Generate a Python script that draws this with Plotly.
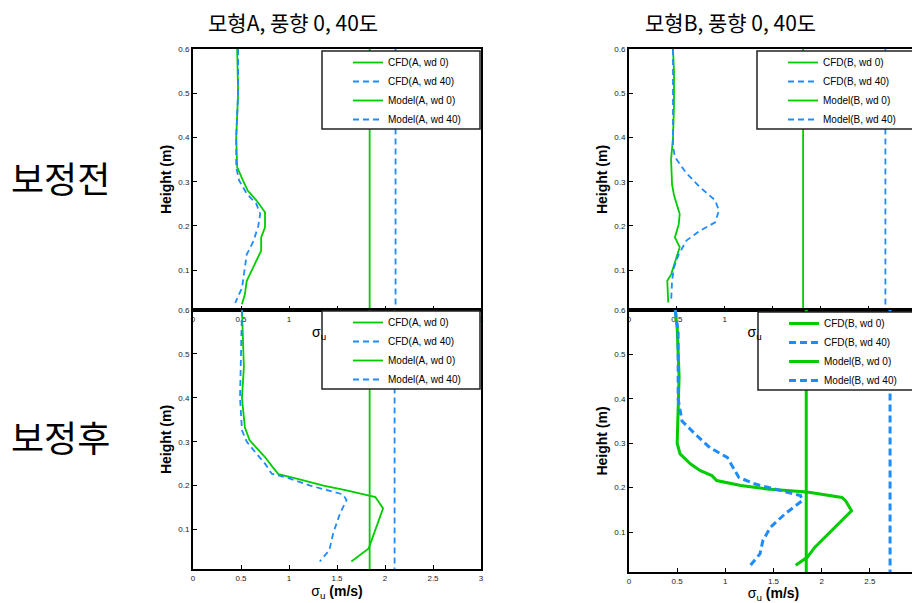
import plotly.graph_objects as go

# page is rendered inside a body with an 8px margin; geometry below is in page pixels
OX, OY = 8, 8
W, H = 920 - OX, 603 - OY
FONT = "Arial, Liberation Sans, sans-serif"
KFONT = "Noto Sans CJK KR, sans-serif"
GREEN = "rgb(0,204,0)"
BLUE = "rgb(30,140,255)"

# ---------------- data ----------------
panel_titles = ["모형A, 풍향 0, 40도", "모형B, 풍향 0, 40도"]
row_labels = ["보정전", "보정후"]
legend_names_A = ["CFD(A, wd 0)", "CFD(A, wd 40)", "Model(A, wd 0)", "Model(A, wd 40)"]
legend_names_B = ["CFD(B, wd 0)", "CFD(B, wd 40)", "Model(B, wd 0)", "Model(B, wd 40)"]
x_tickvals = [0, 0.5, 1, 1.5, 2, 2.5, 3]
x_ticktext = ["0", "0.5", "1", "1.5", "2", "2.5", "3"]
y_tickvals = [0.1, 0.2, 0.3, 0.4, 0.5, 0.6]
y_ticktext = ["0.1", "0.2", "0.3", "0.4", "0.5", "0.6"]

# 모형A 보정전
h_A_pre_wd0 = [0.6, 0.5, 0.4, 0.333, 0.303, 0.28, 0.258, 0.231, 0.197, 0.174, 0.144, 0.106, 0.076, 0.045, 0.023]
s_A_pre_wd0 = [0.46, 0.47, 0.45, 0.46, 0.52, 0.57, 0.66, 0.75, 0.75, 0.71, 0.71, 0.63, 0.56, 0.54, 0.51]
h_A_pre_wd40 = [0.6, 0.5, 0.4, 0.333, 0.303, 0.273, 0.25, 0.227, 0.2, 0.166, 0.148, 0.136, 0.09, 0.06, 0.026]
s_A_pre_wd40 = [0.47, 0.47, 0.45, 0.45, 0.48, 0.56, 0.66, 0.70, 0.68, 0.63, 0.59, 0.56, 0.53, 0.51, 0.44]
# 모형B 보정전
h_B_pre_wd0 = [0.6, 0.55, 0.47, 0.4, 0.35, 0.294, 0.27, 0.25, 0.227, 0.204, 0.174, 0.152, 0.12, 0.09, 0.076, 0.027]
s_B_pre_wd0 = [0.46, 0.47, 0.47, 0.46, 0.44, 0.45, 0.47, 0.50, 0.53, 0.52, 0.48, 0.53, 0.48, 0.44, 0.40, 0.41]
h_B_pre_wd40 = [0.6, 0.5, 0.38, 0.356, 0.322, 0.288, 0.258, 0.235, 0.208, 0.189, 0.167, 0.136, 0.106, 0.076, 0.027]
s_B_pre_wd40 = [0.46, 0.46, 0.46, 0.48, 0.59, 0.74, 0.90, 0.94, 0.90, 0.74, 0.60, 0.52, 0.47, 0.45, 0.44]
# 모형A 보정후
h_A_post_wd0 = [0.6, 0.545, 0.47, 0.4, 0.333, 0.303, 0.265, 0.242, 0.226, 0.216, 0.2, 0.189, 0.178, 0.174, 0.148, 0.106, 0.057, 0.027]
s_A_post_wd0 = [0.51, 0.52, 0.53, 0.51, 0.54, 0.59, 0.75, 0.83, 0.89, 1.08, 1.36, 1.6, 1.83, 1.9, 1.98, 1.91, 1.83, 1.65]
h_A_post_wd40 = [0.6, 0.47, 0.4, 0.326, 0.3, 0.273, 0.25, 0.227, 0.216, 0.2, 0.189, 0.18, 0.167, 0.136, 0.091, 0.053, 0.027]
s_A_post_wd40 = [0.51, 0.50, 0.49, 0.51, 0.56, 0.66, 0.75, 0.82, 1.01, 1.22, 1.42, 1.56, 1.60, 1.53, 1.46, 1.42, 1.32]
# 모형B 보정후
h_B_post_wd0 = [0.6, 0.56, 0.45, 0.38, 0.336, 0.3, 0.276, 0.253, 0.238, 0.227, 0.216, 0.205, 0.197, 0.19, 0.178, 0.17, 0.148, 0.096, 0.066, 0.043, 0.025]
s_B_post_wd0 = [0.48, 0.50, 0.52, 0.51, 0.50, 0.50, 0.53, 0.64, 0.74, 0.86, 0.91, 1.16, 1.43, 1.85, 2.21, 2.25, 2.31, 2.07, 1.93, 1.85, 1.73]
h_B_post_wd40 = [0.6, 0.55, 0.4, 0.35, 0.32, 0.29, 0.268, 0.242, 0.223, 0.208, 0.193, 0.182, 0.171, 0.141, 0.111, 0.081, 0.051, 0.025]
s_B_post_wd40 = [0.48, 0.51, 0.51, 0.55, 0.69, 0.84, 1.02, 1.09, 1.14, 1.31, 1.59, 1.78, 1.80, 1.62, 1.47, 1.39, 1.36, 1.26]

# Model (constant) values and their height span
model_height = [0.0, 0.6]
model_A_pre = [1.84, 2.11]   # wd0, wd40
model_B_pre = [1.82, 2.68]
model_A_post = [1.84, 2.10]
model_B_post = [1.84, 2.71]


# ---------------- layout geometry (page pixels) ----------------
def px_x(p):
    return (p - OX) / W


def px_y(p):
    return 1 - (p - OY) / H


panels = [
    dict(x="x", y="y", leg="legend", names=legend_names_A,
         cfd=[(s_A_pre_wd0, h_A_pre_wd0), (s_A_pre_wd40, h_A_pre_wd40)], model=model_A_pre,
         xd=(193, 481), yd=(49, 310), box=(322, 51, 480, 129), lw=1.8, dash="6px,4px", top=True),
    dict(x="x2", y="y2", leg="legend2", names=legend_names_B,
         cfd=[(s_B_pre_wd0, h_B_pre_wd0), (s_B_pre_wd40, h_B_pre_wd40)], model=model_B_pre,
         xd=(629, 916), yd=(49, 310), box=(757, 51, 915, 129), lw=1.8, dash="6px,4px", top=True),
    dict(x="x3", y="y3", leg="legend3", names=legend_names_A,
         cfd=[(s_A_post_wd0, h_A_post_wd0), (s_A_post_wd40, h_A_post_wd40)], model=model_A_post,
         xd=(193, 481), yd=(310, 569), box=(322, 311, 480, 389), lw=1.8, dash="6px,4px", top=False),
    dict(x="x4", y="y4", leg="legend4", names=legend_names_B,
         cfd=[(s_B_post_wd0, h_B_post_wd0), (s_B_post_wd40, h_B_post_wd40)], model=model_B_post,
         xd=(629, 918), yd=(310, 572), box=(758, 312, 918, 390), lw=3, dash="7px,4px", top=False),
]

fig = go.Figure()
layout = dict(
    width=W, height=H, margin=dict(l=0, r=0, t=0, b=0, autoexpand=False),
    paper_bgcolor="white", plot_bgcolor="rgba(0,0,0,0)",
    font=dict(family=FONT, color="black"),
    showlegend=True, shapes=[], annotations=[],
)

for i, p in enumerate(panels):
    colors = [GREEN, BLUE]
    dashes = ["solid", p["dash"]]
    for k in range(2):
        sx, hy = p["cfd"][k]
        fig.add_trace(go.Scatter(
            x=sx, y=hy, mode="lines", name=p["names"][k],
            line=dict(color=colors[k], width=p["lw"], dash=dashes[k]),
            xaxis=p["x"], yaxis=p["y"], legend=p["leg"]))
    for k in range(2):
        v = p["model"][k]
        fig.add_trace(go.Scatter(
            x=[v] * len(model_height), y=model_height, mode="lines", name=p["names"][k + 2],
            line=dict(color=colors[k], width=p["lw"], dash=dashes[k]),
            xaxis=p["x"], yaxis=p["y"], legend=p["leg"]))

    ax_common = dict(showline=True, linecolor="black", linewidth=2, mirror=True,
                     ticks="inside", ticklen=4, tickcolor="black", tickwidth=1,
                     showgrid=False, zeroline=False,
                     tickfont=dict(size=8, family=FONT, color="#222"))
    xkey = "xaxis" if p["x"] == "x" else "xaxis" + p["x"][1:]
    ykey = "yaxis" if p["y"] == "y" else "yaxis" + p["y"][1:]
    if p["top"]:
        xtitle = "σ<sub>u</sub> <span style='color:rgba(0,0,0,0)'>(m/s)</span>"
    else:
        xtitle = "σ<sub>u</sub> <b>(m/s)</b>"
    layout[xkey] = dict(ax_common, domain=[px_x(p["xd"][0]), px_x(p["xd"][1])], range=[0, 3],
                        anchor=p["y"], tickvals=x_tickvals, ticktext=x_ticktext,
                        title=dict(text=xtitle, font=dict(size=14, family=FONT), standoff=2))
    layout[ykey] = dict(ax_common, domain=[px_y(p["yd"][1]), px_y(p["yd"][0])], range=[0.01, 0.6],
                        anchor=p["x"], tickvals=y_tickvals, ticktext=y_ticktext,
                        title=dict(text="<b>Height (m)</b>", font=dict(size=14, family=FONT), standoff=3))
    bx0, by0, bx1, by1 = p["box"]
    layout["shapes"].append(dict(type="rect", xref="paper", yref="paper",
                                 x0=px_x(bx0), x1=px_x(bx1), y0=px_y(by1), y1=px_y(by0),
                                 fillcolor="white", line=dict(color="#222", width=1.5), layer="above"))
    layout[p["leg"]] = dict(x=px_x(bx0 + 26), y=px_y(by0 - 3), xanchor="left", yanchor="top",
                            bgcolor="rgba(0,0,0,0)", borderwidth=0, tracegroupgap=0,
                            font=dict(size=10, family=FONT, color="black"))

# titles
for cx, t in zip([293, 730], panel_titles):
    layout["annotations"].append(dict(text=t, x=px_x(cx), y=px_y(22), xref="paper", yref="paper",
                                      showarrow=False, xanchor="center", yanchor="middle",
                                      font=dict(size=21, family=KFONT, color="black")))
for cy, t in zip([177, 436], row_labels):
    layout["annotations"].append(dict(text=t, x=px_x(60), y=px_y(cy), xref="paper", yref="paper",
                                      showarrow=False, xanchor="center", yanchor="middle",
                                      font=dict(size=36, family=KFONT, color="black")))

fig.update_layout(**layout)
fig.write_html("out.html")
